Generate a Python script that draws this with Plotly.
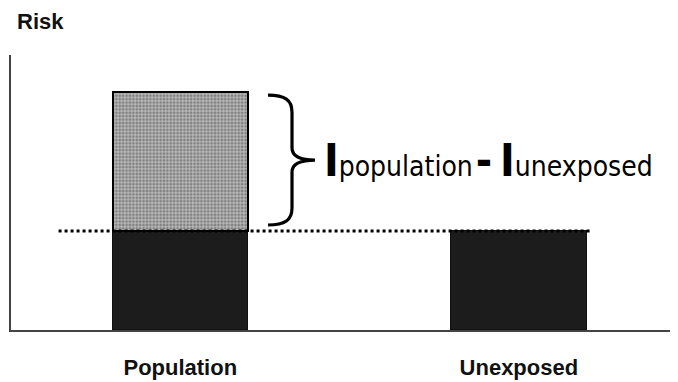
import plotly.graph_objects as go

# ---- data ----
categories = ["Population", "Unexposed"]
cat_pos = [0, 1]
risk_baseline = [3.6, 3.6]          # incidence in unexposed (dark part of both bars)
population_total = [8.65]           # total incidence in the population
excess = [population_total[0] - risk_baseline[0]]  # I_population - I_unexposed

# ---- geometry helpers (axis scales) ----
# the page body has an 8px margin, so the figure is 8px smaller than the window
W, H = 670, 374
ML, MR, MT, MB = 3, 0, 47, 52
XR = [-0.5, 1.47]
YR = [0, 10]
PW, PH = W - ML - MR, H - MT - MB
dxp = (XR[1] - XR[0]) / PW   # data units per pixel (x)
dyp = (YR[1] - YR[0]) / PH   # data units per pixel (y)
BW = 0.40

fig = go.Figure()
fig.add_trace(go.Bar(
    x=cat_pos, y=risk_baseline, width=BW,
    marker=dict(color="#1c1c1c", line=dict(color="#111111", width=1)),
    showlegend=False, hoverinfo="skip"))
fig.add_trace(go.Bar(
    x=cat_pos[:1], y=excess, width=BW,
    marker=dict(color="#8e8e8e",
                line=dict(color="#000000", width=2.5),
                pattern=dict(shape="+", fgcolor="#d8d8d8", bgcolor="#7f7f7f",
                             size=3.4, solidity=0.35, fillmode="replace")),
    showlegend=False, hoverinfo="skip"))

# dotted reference line at unexposed risk
x_start = cat_pos[0] - BW / 2 - 54 * dxp
x_end = cat_pos[1] + BW / 2 + 6 * dxp
fig.add_shape(type="line", x0=x_start, x1=x_end, y0=risk_baseline[1], y1=risk_baseline[1],
              xref="x", yref="y", line=dict(color="#000000", width=3, dash="dot"))

# curly brace spanning the excess part
ytop = population_total[0] - 3 * dyp
ybot = risk_baseline[0] + 6 * dyp
ymid = (ytop + ybot) / 2
xe = cat_pos[0] + BW / 2
tip = xe + 20 * dxp
vx = xe + 44 * dxp
pt = xe + 67 * dxp
c1 = xe + 37 * dxp
path = (f"M {tip},{ytop} C {c1},{ytop} {vx},{ytop - 5*dyp} {vx},{ytop - 17*dyp} "
        f"L {vx},{ymid + 12*dyp} C {vx},{ymid + 4*dyp} {xe + 52*dxp},{ymid} {pt},{ymid} "
        f"C {xe + 52*dxp},{ymid} {vx},{ymid - 4*dyp} {vx},{ymid - 12*dyp} "
        f"L {vx},{ybot + 17*dyp} C {vx},{ybot + 5*dyp} {c1},{ybot} {tip},{ybot}")
fig.add_shape(type="path", path=path, xref="x", yref="y",
              line=dict(color="#000000", width=3.2))

narrow = "DejaVu Sans Condensed, Liberation Sans Narrow, Liberation Sans, Arial"
sub = "<span style='font-size:28px'>{}</span>"
fig.add_annotation(
    x=xe + 74 * dxp, y=ymid, xref="x", yref="y", xanchor="left", yanchor="middle",
    showarrow=False,
    text=("<b>I</b>" + sub.format("population") + "<span style='font-size:10px'> </span>"
          "<b>-</b>" + sub.format(" ") + "<b>I</b>" + sub.format("unexposed")),
    font=dict(family=narrow, size=44, color="#000000"))

# y-axis title "Risk" at top-left (paper coords relative to plot area)
fig.add_annotation(
    x=(15 - 8 - ML) / PW, y=(H - MB - (22 - 8)) / PH, xref="paper", yref="paper",
    xanchor="left", yanchor="middle", showarrow=False, text="<b>Risk</b>",
    font=dict(family="Liberation Sans, Arial", size=22, color="#111111"))

fig.update_layout(
    width=W, height=H,
    margin=dict(l=ML, r=MR, t=MT, b=MB, autoexpand=False),
    paper_bgcolor="white", plot_bgcolor="white",
    barmode="stack", bargap=0,
    xaxis=dict(range=XR, tickvals=cat_pos, ticktext=categories, showgrid=False,
               zeroline=False, showline=True, linecolor="#444444", linewidth=1.5,
               ticks="", ticklabelstandoff=17, automargin=False,
               tickfont=dict(family="Liberation Sans, Arial", size=22, color="#111111",
                             weight="bold")),
    yaxis=dict(range=YR, showgrid=False, zeroline=False, showline=True, automargin=False,
               linecolor="#444444", linewidth=1.5, showticklabels=False, ticks=""),
)

fig.write_html("out.html")
